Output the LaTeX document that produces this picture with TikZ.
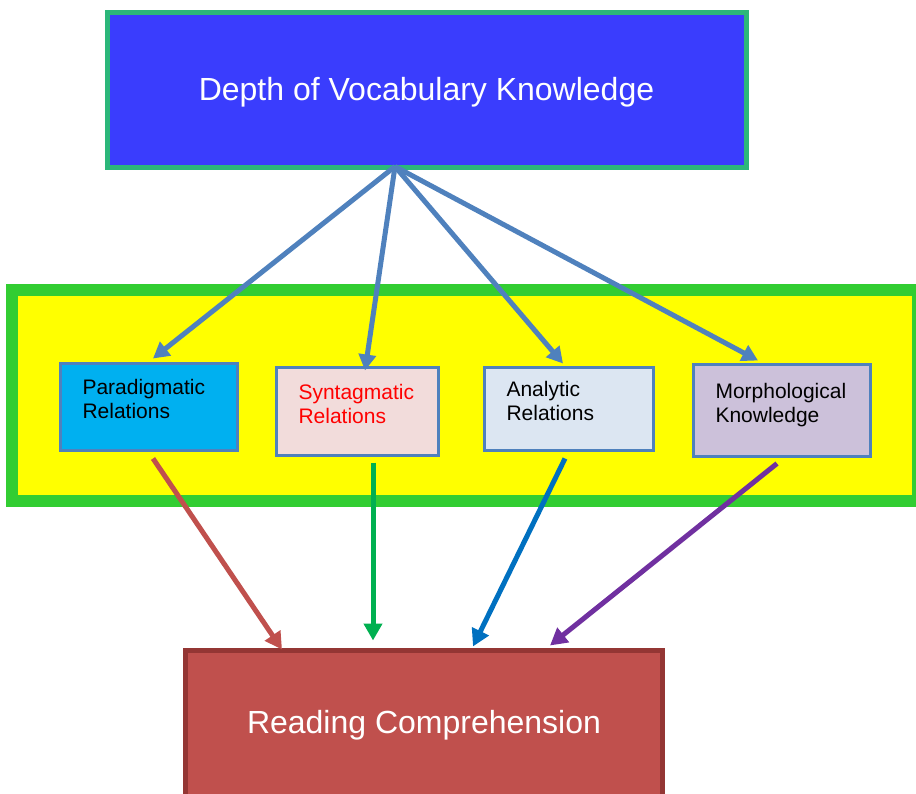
\documentclass[tikz,border=0pt]{standalone}
\usepackage{fontspec}
\setmainfont{Liberation Sans}
\usepackage{tikz}
\usetikzlibrary{arrows.meta}
\hyphenpenalty=10000
\definecolor{vocblue}{RGB}{58,61,253}
\definecolor{vocgreen}{RGB}{44,183,122}
\definecolor{bandgreen}{RGB}{50,205,50}
\definecolor{bandyellow}{RGB}{255,255,0}
\definecolor{edgeblue}{RGB}{79,129,189}
\definecolor{paracyan}{RGB}{0,176,240}
\definecolor{syntpink}{RGB}{242,220,219}
\definecolor{analblue}{RGB}{220,230,242}
\definecolor{morphlilac}{RGB}{204,193,218}
\definecolor{readred}{RGB}{192,80,77}
\definecolor{readdark}{RGB}{148,54,52}
\definecolor{arrgreen}{RGB}{0,176,80}
\definecolor{arrblue}{RGB}{0,112,192}
\definecolor{arrpurple}{RGB}{112,48,160}
\definecolor{pinkred}{RGB}{255,0,0}

\begin{document}
\begin{tikzpicture}[
    x=1pt, y=-1pt,
    bigbox/.style={rectangle, inner sep=0pt, align=center, text=white,
        font=\fontsize{32}{38}\selectfont, line width=5pt},
    relbox/.style={rectangle, draw=edgeblue, line width=3pt, align=left,
        inner xsep=22pt, inner ysep=0pt, text height=16pt, text depth=41pt,
        font=\fontsize{21}{24}\selectfont},
    toarrow/.style={draw=edgeblue, line width=5pt, -{Triangle[length=16pt,width=17pt]}},
    fromarrow/.style={line width=5pt, -{Triangle[length=17pt,width=18pt]}}
]
    \useasboundingbox (0,0) rectangle (916,793);

    % yellow band behind the four dimensions
    \node[rectangle, fill=bandyellow, draw=bandgreen, line width=12pt, inner sep=0pt,
          minimum width=906pt, minimum height=211pt] (band) at (465,395.5) {};

    % top and bottom constructs
    \node[bigbox, fill=vocblue, draw=vocgreen, minimum width=639pt, minimum height=155pt,
          text height=28pt, text depth=7pt]
        (depth) at (426.5,89.5) {Depth of Vocabulary Knowledge};
    \node[bigbox, fill=readred, draw=readdark, minimum width=477pt, minimum height=150pt]
        (reading) at (424,725) {Reading Comprehension};

    % the four dimensions
    \node[relbox, fill=paracyan, text width=133pt, minimum height=87pt]
        (para) at (149,407) {Paradigmatic\\Relations};
    \node[relbox, fill=syntpink, text=pinkred, text width=118pt, minimum height=88pt]
        (synt) at (357.5,411.5) {Syntagmatic\\Relations};
    \node[relbox, fill=analblue, text width=125pt, minimum height=83pt]
        (anal) at (569,409) {Analytic\\Relations};
    \node[relbox, fill=morphlilac, text width=133pt, minimum height=92pt]
        (morph) at (782,410.5) {Morphological\\Knowledge};

    \coordinate (hub) at ([xshift=-31.5pt,yshift=3pt]depth.south);

    % arrows from depth of vocabulary knowledge
    \draw[toarrow] (hub) -- ([xshift=4pt,yshift=3.5pt]para.north);
    \draw[toarrow] (hub) -- ([xshift=7.5pt,yshift=-4.5pt]synt.north);
    \draw[toarrow] (hub) -- ([xshift=-6pt,yshift=2.5pt]anal.north);
    \draw[toarrow] (hub) -- ([xshift=-24pt,yshift=2.5pt]morph.north);

    % arrows into reading comprehension
    \draw[fromarrow, readred] ([xshift=4pt,yshift=-6.5pt]para.south)
        -- ([xshift=-142pt,yshift=-2pt]reading.north);
    \draw[fromarrow, arrgreen] ([xshift=15.5pt,yshift=-5.5pt]synt.south)
        -- ([xshift=-51pt,yshift=7pt]reading.north);
    \draw[fromarrow, arrblue] ([xshift=-4pt,yshift=-6.5pt]anal.south)
        -- ([xshift=49pt,yshift=1pt]reading.north);
    \draw[fromarrow, arrpurple] ([xshift=-5pt,yshift=-5.5pt]morph.south)
        -- ([xshift=126pt,yshift=2pt]reading.north);
\end{tikzpicture}
\end{document}
